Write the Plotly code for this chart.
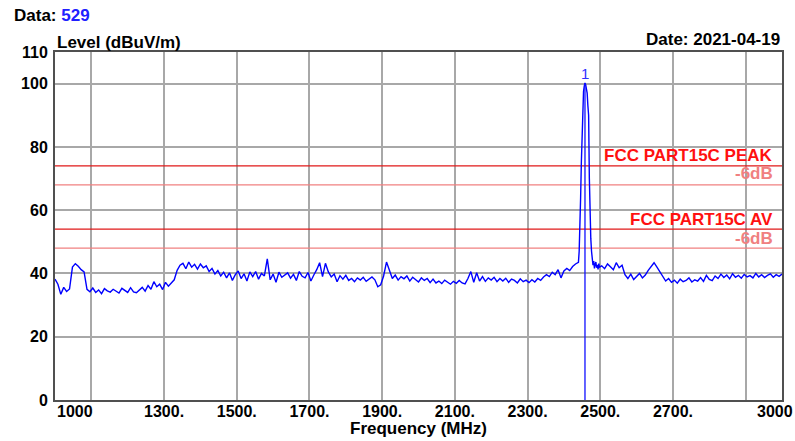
import numpy as np
import plotly.graph_objs as go

# frequency grids (MHz)
freq_low = np.arange(1000, 2433, 8)
freq_peak = np.arange(2440, 2499, 2)
freq_high = np.arange(2504, 3001, 8)

level_low = [
    38.2, 36.6, 33.4, 35.6, 34.3, 35.1, 42.0, 43.1, 42.3, 41.2,
    40.5, 35.0, 34.2, 35.4, 34.0, 34.8, 33.6, 35.2, 34.5, 34.1,
    35.0, 34.3, 33.8, 35.3, 34.6, 34.0, 35.5, 34.2, 33.9, 34.8,
    35.6, 34.4, 36.2, 35.0, 37.4, 35.8, 36.6, 34.9, 37.2, 36.0,
    37.0, 38.0, 41.0, 42.6, 43.2, 41.5, 43.6, 42.0, 42.9, 41.4,
    43.0, 41.8, 42.4, 40.6, 41.6, 39.8, 40.9, 39.2, 40.4, 38.6,
    40.2, 37.8, 39.6, 40.8, 38.4, 39.9, 37.6, 40.5, 39.0, 40.6,
    38.2, 40.0, 39.2, 44.6, 38.0, 39.8, 37.2, 40.4, 38.8, 39.6,
    40.2, 38.5, 39.7, 37.8, 40.6, 39.1, 38.6, 40.3, 37.6, 39.5,
    41.2, 43.4, 39.0, 43.2, 40.5, 38.9, 39.8, 37.4, 39.3, 38.2,
    39.4, 37.8, 38.4, 37.4, 38.6, 37.9, 38.8, 37.5, 38.2, 38.9,
    38.0, 35.8, 36.4, 39.2, 43.6, 41.0, 38.4, 39.5, 37.9, 39.0,
    38.3, 39.2, 37.6, 38.8, 38.0, 37.3, 38.6, 37.8, 38.4, 37.1,
    38.2, 37.0, 37.6, 36.8, 37.9, 37.2, 36.6, 37.5, 36.9, 37.8,
    37.0, 36.7, 38.4, 40.6, 37.2, 40.2, 37.6, 39.0, 37.5, 38.6,
    37.9, 38.8, 37.4, 38.4, 37.6, 38.5, 37.2, 38.2, 37.8, 37.0,
    38.3, 37.4, 37.9, 37.1, 38.0, 37.3, 38.4, 37.8, 38.9, 39.6,
    39.0, 40.4, 39.6, 41.2, 38.6, 40.8, 41.6, 40.9, 42.2, 43.0,
]
level_peak = [
    43.5, 47.0, 53.0, 64.0, 75.0, 86.0, 94.0, 97.5, 99.2, 100.2,
    99.6, 98.4, 97.0, 93.0, 90.0, 70.0, 58.0, 51.0, 47.0, 44.5,
    42.6, 43.9, 41.6, 42.9, 43.6, 41.8, 42.7, 41.3, 43.1, 42.0,
]
level_high = [
    42.4, 41.5, 43.0, 42.1, 41.2, 43.4, 41.8, 42.6,
    39.6, 38.4, 39.8, 38.1, 39.2, 40.0, 38.6, 39.5, 41.0, 42.2,
    43.4, 42.0, 40.6,
    39.0, 37.6, 38.4, 37.2, 37.9, 36.9, 38.2, 37.4, 37.8, 38.6,
    37.3, 38.0, 37.6, 38.7, 37.5, 39.4, 38.1, 37.7,
    39.2, 38.4, 39.8, 38.7, 39.5, 38.3, 39.9, 38.8, 39.4, 38.5,
    39.7, 38.9, 39.3, 38.6, 40.0, 38.9, 39.6, 38.7, 39.4, 39.9,
    38.8, 39.6, 39.1, 39.8,
]

freq = np.concatenate([freq_low, freq_peak, freq_high])
level = np.array(level_low + level_peak + level_high)
assert len(freq) == len(level)

# limits
peak_limit = 74
av_limit = 54
limit_margin = 6

# marker 1
marker_f = 2458
marker_level = 100.2

grid_ticks = list(range(1100, 3000, 200))
label_ticks = [1300, 1500, 1700, 1900, 2100, 2300, 2500, 2700]
y_ticks = [0, 20, 40, 60, 80, 100, 110]

FONT = "Liberation Sans, Arial, sans-serif"

fig = go.Figure()

f_span = [1000, 3000]
fig.add_trace(go.Scatter(x=f_span, y=[peak_limit] * 2, mode="lines",
                         line=dict(color="#e01818", width=1.3), hoverinfo="skip"))
fig.add_trace(go.Scatter(x=f_span, y=[peak_limit - limit_margin] * 2, mode="lines",
                         line=dict(color="#f08080", width=1.2), hoverinfo="skip"))
fig.add_trace(go.Scatter(x=f_span, y=[av_limit] * 2, mode="lines",
                         line=dict(color="#e01818", width=1.3), hoverinfo="skip"))
fig.add_trace(go.Scatter(x=f_span, y=[av_limit - limit_margin] * 2, mode="lines",
                         line=dict(color="#f08080", width=1.2), hoverinfo="skip"))

fig.add_trace(go.Scatter(x=freq, y=level, mode="lines",
                         line=dict(color="#0000ff", width=1.4)))

# marker line, on the label axis so that axis gets drawn
fig.add_trace(go.Scatter(x=[marker_f, marker_f], y=[0, marker_level], mode="lines",
                         xaxis="x2", line=dict(color="#1010ff", width=1.3)))

fig.update_layout(
    width=795, height=441,
    margin=dict(l=55, r=13, t=52, b=41),
    paper_bgcolor="white", plot_bgcolor="white",
    showlegend=False,
    font=dict(family=FONT, color="black"),
    xaxis=dict(range=f_span, tickvals=grid_ticks, showticklabels=False,
               showgrid=True, gridcolor="#a8a8a8", gridwidth=1.5,
               showline=True, mirror=True, linecolor="#505050", linewidth=2,
               zeroline=False, ticks=""),
    xaxis2=dict(range=f_span, overlaying="x", anchor="y", side="bottom",
                tickvals=label_ticks, ticktext=[f"<b>{t}.</b>" for t in label_ticks],
                tickfont=dict(size=16), showgrid=False, zeroline=False,
                showline=False, ticks=""),
    yaxis=dict(range=[0, 110], tickvals=y_ticks,
               ticktext=[f"<b>{t}</b>" for t in y_ticks], tickfont=dict(size=16),
               showgrid=True, gridcolor="#a8a8a8", gridwidth=1.5,
               showline=True, mirror=True, linecolor="#505050", linewidth=2,
               zeroline=False, ticks="", ticklabelstandoff=2),
)

ann = [
    dict(x=1000, xref="x", y=0, yref="paper", yanchor="top", xanchor="left",
         text="<b>1000</b>", font=dict(size=16), yshift=-1),
    dict(x=3000, xref="x", y=0, yref="paper", yanchor="top", xanchor="center",
         text="<b>3000</b>", font=dict(size=16), yshift=-1, xshift=-7),
    dict(x=-0.059, xref="paper", y=1.106, yref="paper", xanchor="left", yanchor="middle",
         text="<b>Data: <span style='color:#2020ff'>529</span></b>", font=dict(size=17)),
    dict(x=0, xref="paper", y=1.0287, yref="paper", xanchor="left", yanchor="middle",
         text="<b>Level (dBuV/m)</b>", font=dict(size=17)),
    dict(x=1, xref="paper", y=1.0345, yref="paper", xanchor="right", yanchor="middle",
         text="<b>Date: 2021-04-19</b>", font=dict(size=17)),
    dict(x=0.5, xref="paper", y=-0.0833, yref="paper", xanchor="center", yanchor="middle",
         text="<b>Frequency (MHz)</b>", font=dict(size=17)),
    dict(x=0.9904, xref="paper", y=peak_limit, yref="y", xanchor="right", yanchor="middle",
         yshift=10, text="<b>FCC PART15C PEAK</b>", font=dict(size=17, color="#ff1010")),
    dict(x=0.9904, xref="paper", y=peak_limit - limit_margin, yref="y", xanchor="right",
         yanchor="middle", yshift=11, text="<b>-6dB</b>", font=dict(size=17, color="#f08080")),
    dict(x=0.9904, xref="paper", y=av_limit, yref="y", xanchor="right", yanchor="middle",
         yshift=10, text="<b>FCC PART15C AV</b>", font=dict(size=17, color="#ff1010")),
    dict(x=0.9904, xref="paper", y=av_limit - limit_margin, yref="y", xanchor="right",
         yanchor="middle", yshift=10, text="<b>-6dB</b>", font=dict(size=17, color="#f08080")),
    dict(x=marker_f, xref="x", y=marker_level, yref="y", xanchor="center", yanchor="middle",
         yshift=10, text="1", font=dict(size=15, color="#3030ff")),
]
for a in ann:
    a["showarrow"] = False
    fig.add_annotation(**a)

# page body has a default 8px margin; drop it so the figure sits at 0,0
fig.write_html("out.html", config={"displayModeBar": False},
               post_script="document.body.style.margin='0px';")
